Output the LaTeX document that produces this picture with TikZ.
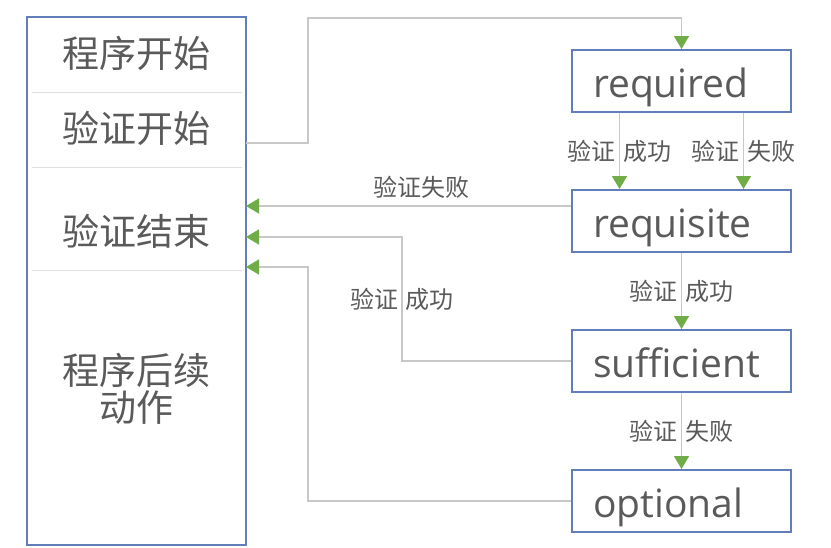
\documentclass[tikz,border=0pt]{standalone}
\usepackage{fontspec}
\setmainfont{Open Sans}
\newfontfamily\cjk{Noto Sans CJK SC}
\usetikzlibrary{positioning,arrows.meta}
\definecolor{boxblue}{RGB}{98,126,186}
\definecolor{linegray}{RGB}{200,200,200}
\definecolor{tipgreen}{RGB}{112,173,71}
\definecolor{txtgray}{RGB}{90,90,90}

\begin{document}
\begin{tikzpicture}[x=1pt,y=-1pt,node distance=76pt,
   every node/.style={text=txtgray},
   stage/.style={draw=boxblue,line width=2pt,text width=177pt,inner xsep=21pt,
     inner ysep=0pt,minimum height=62pt,align=left,text height=36pt,text depth=4pt,
     font=\fontsize{39}{41}\selectfont},
   part/.style={font=\cjk\fontsize{37}{37}\selectfont,align=center},
   lbl/.style={font=\cjk\fontsize{24}{26}\selectfont,inner sep=3pt},
   flow/.style={draw=linegray,line width=1.5pt,
     -{Triangle[length=13pt,width=15pt,color=tipgreen]}}]
  \useasboundingbox (0,0) rectangle (831,547);
  % left column
  \node (prog) [draw=boxblue,line width=2pt,minimum width=219pt,
    minimum height=528pt,inner sep=0pt] at (136.5,281) {};
  \node[part] (start) at (136.5,53) {程序开始};
  \node[part] (vbegin) at (136.5,128) {验证开始};
  \node[part] (vend) at (136.5,231) {验证结束};
  \node[part] (after) at (136.5,389) {程序后续\\动作};
  \foreach \y in {92,167,270}
    \draw[black!12,line width=1pt] (32,\y) -- (242,\y);
  \coordinate (out) at (246,143);
  \coordinate (in1) at (246,206);
  \coordinate (in2) at (246,237);
  \coordinate (in3) at (246,267);
  % modules
  \node[stage] (required) at (681.5,81) {required};
  \node[stage,below=of required] (requisite) {requisite};
  \node[stage,below=of requisite] (sufficient) {sufficient};
  \node[stage,below=of sufficient] (optional) {optional};
  % connectors
  \draw[flow] (out) -| (308,18) -| (required.north);
  \draw[flow] ([xshift=-62pt]required.south) --
    node[lbl,left] (s1a) {验证} node[lbl,right] (s1b) {成功}
    ([xshift=-62pt]requisite.north);
  \draw[flow] ([xshift=62pt]required.south) --
    node[lbl,left] (f1a) {验证} node[lbl,right] (f1b) {失败}
    ([xshift=62pt]requisite.north);
  \draw[flow] (requisite) --
    node[lbl,left] (s2a) {验证} node[lbl,right] (s2b) {成功} (sufficient);
  \draw[flow] (sufficient) --
    node[lbl,left] (f2a) {验证} node[lbl,right] (f2b) {失败} (optional);
  \draw[flow] ([yshift=15pt]requisite.west) --
    node[pos=.46,lbl,above=4pt] (f3) {验证失败} (in1);
  \draw[flow] (sufficient.west) -|
    node[pos=.75,lbl,left] (s3a) {验证} node[pos=.75,lbl,right] (s3b) {成功}
    (402,237) -- (in2);
  \draw[flow] (optional.west) -| (308,267) -- (in3);
\end{tikzpicture}
\end{document}
